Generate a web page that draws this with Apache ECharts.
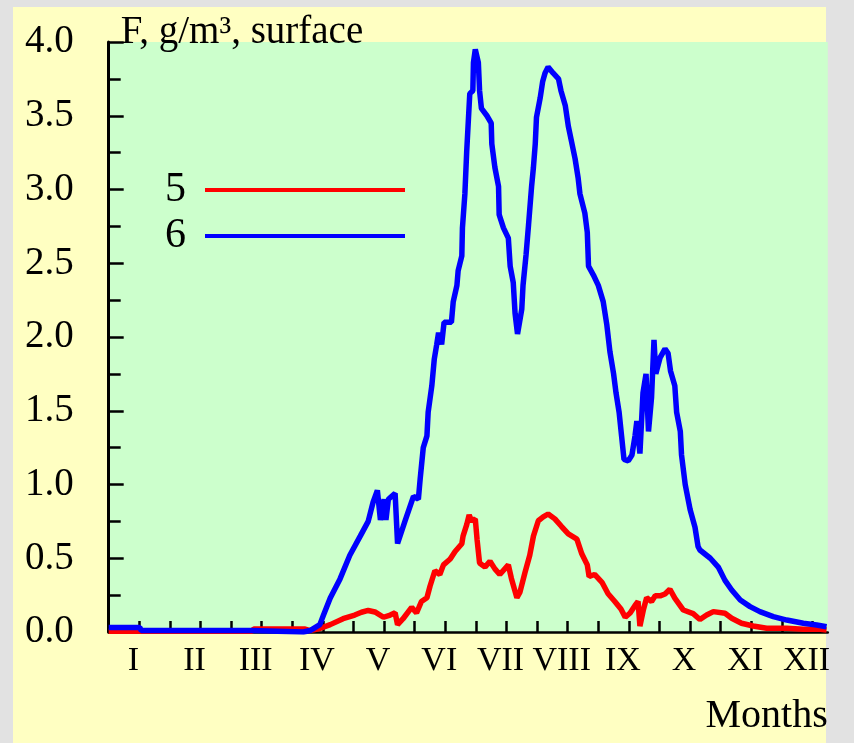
<!DOCTYPE html>
<html>
<head>
<meta charset="utf-8">
<script src="https://cdn.jsdelivr.net/npm/echarts@6/dist/echarts.min.js"></script>
<style>
  html, body { margin: 0; padding: 0; width: 854px; height: 743px; overflow: hidden; background: #e2e2e2; }
  #panel { position: absolute; left: 13px; top: 7px; width: 813px; height: 736px; background: #ffffc2; }
  #chart { position: absolute; left: 0; top: 0; width: 854px; height: 743px; }
</style>
</head>
<body>
<div id="panel"></div>
<div id="chart"></div>
<script>
// Month labels (x axis), position in months from 1 January
const monthLabels = ['I','II','III','IV','V','VI','VII','VIII','IX','X','XI','XII'];
const yTicks = [0, 0.5, 1, 1.5, 2, 2.5, 3, 3.5, 4];

// Series "5" (red): x in months, F in g/m3
const x5 = [0.00,0.51,2.34,2.37,3.21,3.29,3.45,3.62,3.83,4.02,4.13,4.24,4.35,4.49,4.60,4.68,4.72,4.81,4.95,5.03,5.11,5.20,5.25,5.33,5.41,5.47,5.58,5.66,5.77,5.79,5.85,5.89,5.93,5.99,6.02,6.06,6.15,6.23,6.31,6.39,6.53,6.58,6.67,6.72,6.80,6.88,6.94,7.02,7.10,7.18,7.29,7.40,7.51,7.65,7.73,7.82,7.85,7.94,8.06,8.16,8.27,8.37,8.44,8.52,8.60,8.65,8.68,8.74,8.79,8.87,8.93,9.01,9.09,9.17,9.25,9.39,9.55,9.66,9.77,9.88,10.07,10.18,10.34,10.53,10.75,11.08,11.35,11.63,11.73];
const f5 = [0.005,0.005,0.005,0.02,0.02,0.01,0.024,0.05,0.09,0.115,0.134,0.146,0.136,0.10,0.115,0.13,0.05,0.09,0.167,0.129,0.207,0.232,0.31,0.415,0.39,0.455,0.495,0.546,0.598,0.65,0.728,0.793,0.754,0.767,0.624,0.468,0.44,0.48,0.428,0.39,0.455,0.363,0.232,0.27,0.40,0.52,0.65,0.754,0.78,0.80,0.767,0.715,0.665,0.63,0.53,0.455,0.376,0.39,0.337,0.259,0.207,0.156,0.10,0.129,0.18,0.207,0.04,0.156,0.232,0.207,0.245,0.245,0.258,0.29,0.23,0.149,0.125,0.085,0.115,0.138,0.127,0.093,0.059,0.041,0.025,0.025,0.018,0.018,0.014];

// Series "6" (blue): x in months, F in g/m3
const x6 = [0.00,0.51,0.53,2.34,2.37,3.18,3.29,3.37,3.45,3.51,3.62,3.78,3.94,4.11,4.24,4.32,4.39,4.44,4.50,4.53,4.57,4.68,4.72,4.84,4.98,5.06,5.09,5.14,5.20,5.22,5.28,5.32,5.36,5.39,5.44,5.48,5.60,5.63,5.69,5.71,5.77,5.78,5.82,5.85,5.90,5.95,5.96,5.99,6.04,6.06,6.09,6.18,6.25,6.26,6.31,6.37,6.38,6.45,6.53,6.56,6.61,6.64,6.68,6.75,6.77,6.82,6.86,6.91,6.94,6.97,6.99,7.05,7.09,7.13,7.18,7.26,7.35,7.39,7.46,7.51,7.57,7.62,7.67,7.70,7.78,7.82,7.84,7.92,8.00,8.08,8.14,8.19,8.25,8.29,8.34,8.38,8.42,8.49,8.55,8.60,8.63,8.68,8.73,8.78,8.82,8.87,8.91,8.94,9.01,9.09,9.14,9.18,9.25,9.28,9.34,9.36,9.42,9.50,9.58,9.63,9.66,9.83,9.96,10.07,10.18,10.32,10.48,10.64,10.86,11.08,11.35,11.57,11.73];
const f6 = [0.03,0.03,0.01,0.01,0.0,0.0,0.01,0.03,0.05,0.115,0.23,0.36,0.52,0.65,0.75,0.88,0.96,0.76,0.90,0.76,0.90,0.94,0.60,0.75,0.92,0.90,1.04,1.25,1.33,1.49,1.67,1.85,1.95,2.03,1.95,2.10,2.10,2.24,2.35,2.45,2.55,2.74,2.97,3.26,3.65,3.67,3.86,3.95,3.86,3.67,3.55,3.50,3.45,3.31,3.15,3.02,2.83,2.74,2.67,2.48,2.37,2.16,2.02,2.19,2.35,2.56,2.76,3.02,3.15,3.31,3.49,3.62,3.73,3.79,3.83,3.79,3.75,3.67,3.57,3.43,3.31,3.21,3.08,2.97,2.84,2.71,2.48,2.42,2.35,2.24,2.08,1.90,1.75,1.62,1.49,1.33,1.17,1.16,1.20,1.33,1.43,1.21,1.62,1.75,1.36,1.59,1.98,1.75,1.86,1.92,1.89,1.77,1.67,1.49,1.36,1.20,1.00,0.83,0.71,0.58,0.556,0.50,0.44,0.35,0.285,0.217,0.172,0.138,0.104,0.081,0.059,0.047,0.036];

const serif = "'Liberation Serif', 'Times New Roman', serif";
const pairs = (xs, ys) => xs.map((x, i) => [x, ys[i]]);

const tickValues = [];
for (let i = 0; i <= 23; i++) tickValues.push(i * 0.5);
const labelValues = monthLabels.map((_, i) => i + 0.5);

const chart = echarts.init(document.getElementById('chart'), null, { renderer: 'canvas' });
chart.setOption({
  backgroundColor: 'transparent',
  animation: false,
  grid: {
    left: 108.7, right: 26.2, top: 42, bottom: 111,
    show: true, backgroundColor: '#ccffcc', borderWidth: 0
  },
  legend: {
    data: ['5', '6'],
    orient: 'vertical',
    left: 160, top: 164,
    align: 'right',
    icon: 'rect',
    itemWidth: 200, itemHeight: 4,
    itemGap: 4,
    textStyle: { fontFamily: serif, fontSize: 42, color: '#000', lineHeight: 40, padding: [0, 14, 0, 0] },
    selectedMode: false
  },
  xAxis: {
    type: 'value',
    min: 0, max: 11.75, interval: 0.5,
    name: 'Months',
    nameLocation: 'end',
    nameGap: 0,
    nameTextStyle: { fontFamily: serif, fontSize: 40, color: '#000', align: 'right', verticalAlign: 'top', padding: [64, 0, 0, 0] },
    axisLine: { show: true, onZero: false, lineStyle: { color: '#000', width: 2.5 } },
    axisTick: { show: true, inside: true, length: 11, customValues: tickValues, lineStyle: { color: '#000', width: 2.5 } },
    axisLabel: {
      customValues: labelValues,
      fontFamily: serif, fontSize: 34, color: '#000', margin: 12,
      padding: [0, 12, 0, 0],
      formatter: v => {
        const k = Math.round(v - 0.5);
        return (Math.abs(v - 0.5 - k) < 1e-6 && k >= 0 && k < monthLabels.length) ? monthLabels[k] : '';
      }
    },
    splitLine: { show: false }
  },
  yAxis: {
    type: 'value',
    min: 0, max: 4, interval: 0.5,
    name: 'F, g/m³, surface',
    nameLocation: 'end',
    nameGap: -10,
    nameTextStyle: { fontFamily: serif, fontSize: 39, color: '#000', align: 'left', verticalAlign: 'bottom', padding: [0, 0, 0, 12] },
    axisLine: { show: true, lineStyle: { color: '#000', width: 3 } },
    axisTick: { show: true, inside: true, length: 15, customValues: yTicks, lineStyle: { color: '#000', width: 2.5 } },
    minorTick: { show: true, splitNumber: 2, length: 12, lineStyle: { color: '#000', width: 2.5 } },
    axisLabel: {
      customValues: yTicks,
      fontFamily: serif, fontSize: 39, color: '#000', margin: 35,
      formatter: v => v.toFixed(1)
    },
    splitLine: { show: false }
  },
  series: [
    {
      name: '5', type: 'line', data: pairs(x5, f5),
      showSymbol: false, symbol: 'none',
      lineStyle: { color: '#ff0000', width: 5.5 }, itemStyle: { color: '#ff0000' }
    },
    {
      name: '6', type: 'line', data: pairs(x6, f6),
      showSymbol: false, symbol: 'none',
      lineStyle: { color: '#0000ff', width: 5.5 }, itemStyle: { color: '#0000ff' }
    }
  ]
});
</script>
</body>
</html>
